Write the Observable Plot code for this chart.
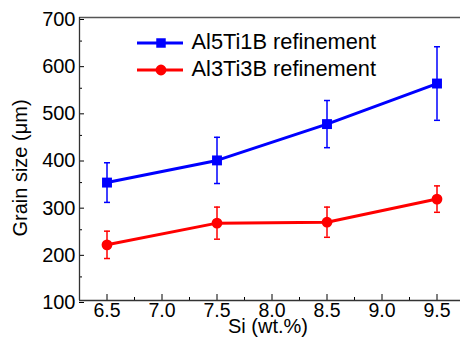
<!DOCTYPE html>
<html><head><meta charset="utf-8">
<script src="https://cdn.jsdelivr.net/npm/d3@7"></script>
<script src="https://cdn.jsdelivr.net/npm/@observablehq/plot@0.6"></script>
<style>
body{margin:0;background:#fff;overflow:hidden;}
#wrap{position:relative;width:460px;height:349px;overflow:hidden;}
#legend{position:absolute;left:0;top:0;}
</style></head><body><div id="wrap"></div>
<script>
const si = [6.5, 7.5, 8.5, 9.5];
const al5Mean = [350, 397, 474, 560];
const al5Err = [42, 49, 50, 78];
const al3Mean = [218, 264, 266, 315];
const al3Err = [29, 34, 32, 28];
const seriesNames = ["Al5Ti1B refinement", "Al3Ti3B refinement"];
const seriesColors = ["#0000ff", "#ff0000"];
const seriesSymbols = ["square", "circle"];
const yTicks = [100, 200, 300, 400, 500, 600, 700];
const yMinor = [150, 250, 350, 450, 550, 650];
const xTicks = [6.5, 7.0, 7.5, 8.0, 8.5, 9.0, 9.5];
const xMinor = [6.75, 7.25, 7.75, 8.25, 8.75, 9.25];
const xDomain = [6.25, 9.75];
const yDomain = [100, 700];
const xLabel = "Si (wt.%)";
const yLabel = "Grain size (μm)";

const means = [al5Mean, al3Mean];
const errs = [al5Err, al3Err];
const series = seriesNames.map((name, s) => ({
  name, color: seriesColors[s], symbol: seriesSymbols[s],
  rows: si.map((x, i) => ({x, y: means[s][i], lo: means[s][i] - errs[s][i], hi: means[s][i] + errs[s][i]}))
}));

const cap = {draw(ctx) { ctx.moveTo(-3, 0); ctx.lineTo(3, 0); }};
const FONT = "'Liberation Sans', Arial, sans-serif";

const marks = [
  Plot.axisY(yTicks, {tickSize: -5, tickPadding: 9, fontSize: 20, label: null, tickFormat: d => String(d), color: "#000", dy: 2}),
  Plot.axisY(yMinor, {tickSize: -3, tickFormat: () => "", label: null}),
  Plot.axisX(xTicks, {tickSize: -6, tickPadding: 9, fontSize: 19.5, label: null, tickFormat: d => d.toFixed(1), color: "#000"}),
  Plot.axisX(xMinor, {tickSize: -3, tickFormat: () => "", label: null}),
  Plot.ruleY([yDomain[1]], {stroke: "#555", strokeWidth: 1.5}),
  Plot.ruleY([yDomain[0]], {stroke: "#333", strokeWidth: 1.3}),
  Plot.ruleX([xDomain[0]], {stroke: "#333", strokeWidth: 1.3}),
];
for (const s of series) {
  marks.push(
    Plot.ruleX(s.rows, {x: "x", y1: "lo", y2: "hi", stroke: s.color, strokeWidth: 1.5}),
    Plot.dot(s.rows, {x: "x", y: "hi", symbol: cap, stroke: s.color, strokeWidth: 1.5}),
    Plot.dot(s.rows, {x: "x", y: "lo", symbol: cap, stroke: s.color, strokeWidth: 1.5}),
    Plot.line(s.rows, {x: "x", y: "y", stroke: s.color, strokeWidth: 3}),
    Plot.dot(s.rows, {x: "x", y: "y", symbol: s.symbol, fill: s.color, r: s.symbol === "square" ? 5.6 : 5.4})
  );
}
marks.push(
  Plot.text([xLabel], {text: d => d, frameAnchor: "bottom", textAnchor: "middle", lineAnchor: "middle", dy: 26.5, dx: -2, fontSize: 20, fill: "#000"}),
  Plot.text([yLabel], {text: d => d, frameAnchor: "left", textAnchor: "middle", lineAnchor: "middle", rotate: -90, dx: -59, dy: 9, fontSize: 20, fill: "#000"})
);

const chart = Plot.plot({
  width: 460, height: 349,
  marginLeft: 79, marginRight: 0, marginTop: 17, marginBottom: 49,
  style: {fontFamily: FONT, background: "#fff", overflow: "visible"},
  x: {domain: xDomain, range: [79, 464], axis: null},
  y: {domain: yDomain, axis: null},
  marks
});
const wrap = document.getElementById("wrap");
wrap.appendChild(chart);

// legend overlay
const leg = d3.select(wrap).append("svg").attr("id", "legend").attr("width", 460).attr("height", 100)
  .style("font-family", FONT);
series.forEach((s, i) => {
  const g = leg.append("g").attr("transform", `translate(137,${43 + i * 27})`);
  g.append("line").attr("x1", 0).attr("x2", 46).attr("stroke", s.color).attr("stroke-width", 3);
  g.append("path").attr("transform", "translate(24,0)")
    .attr("d", d3.symbol(s.symbol === "square" ? d3.symbolSquare : d3.symbolCircle, s.symbol === "square" ? 90 : 92)())
    .attr("fill", s.color);
  g.append("text").attr("x", 54.5).attr("y", 5.5).attr("font-size", 21.8).attr("fill", "#000").text(s.name);
});
</script></body></html>
